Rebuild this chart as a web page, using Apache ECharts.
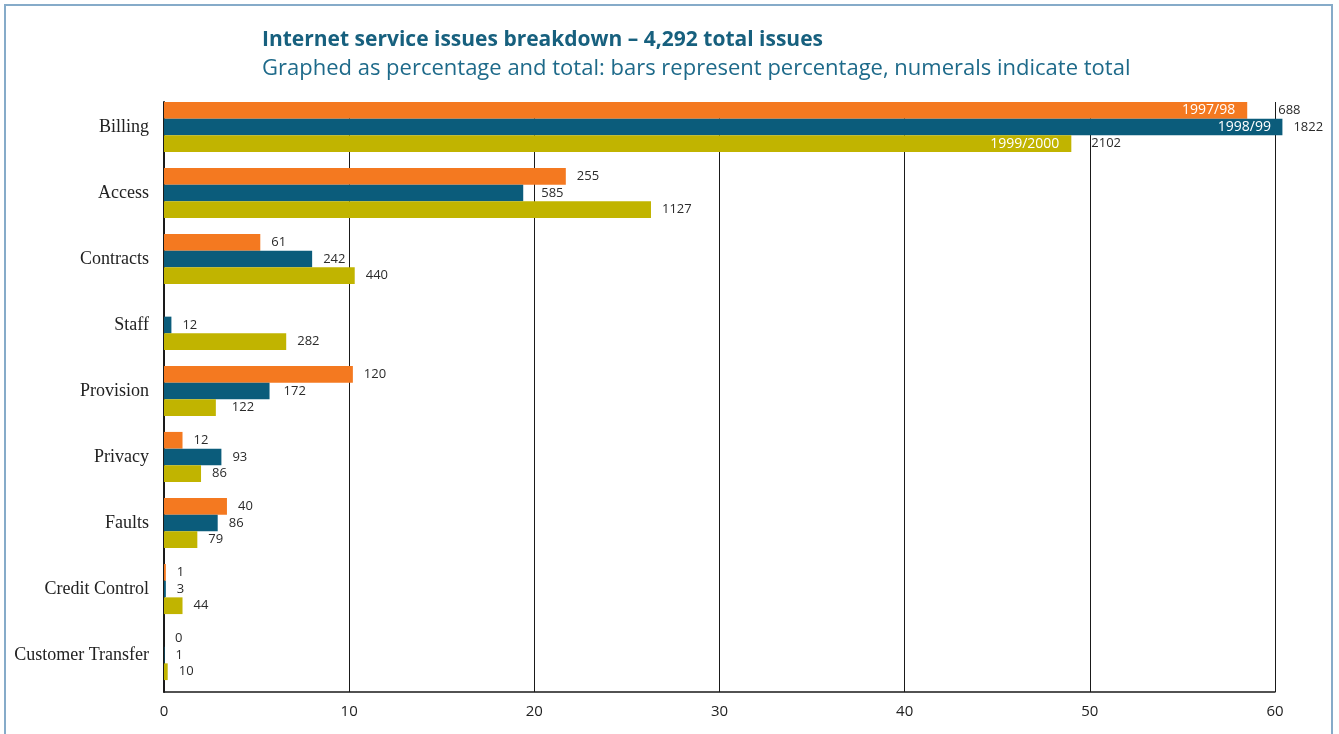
<!DOCTYPE html>
<html>
<head>
<meta charset="utf-8">
<script src="https://cdn.jsdelivr.net/npm/echarts@6/dist/echarts.min.js"></script>
<style>
  html, body { margin: 0; padding: 0; background: #ffffff; }
  #frame { position: absolute; left: 4px; top: 4px; width: 1329px; height: 760px;
           border: 2px solid #86abc9; box-sizing: border-box; }
  #chart { position: absolute; left: 0; top: 0; width: 1339px; height: 734px; }
</style>
</head>
<body>
<div id="frame"></div>
<div id="chart"></div>
<script>
// Issue categories, top to bottom
const categories = ['Billing', 'Access', 'Contracts', 'Staff', 'Provision',
                    'Privacy', 'Faults', 'Credit Control', 'Customer Transfer'];
const years = ['1997/98', '1998/99', '1999/2000'];

// Issue counts (printed beside each bar)
const count9798 = [688, 255, 61, null, 120, 12, 40, 1, 0];
const count9899 = [1822, 585, 242, 12, 172, 93, 86, 3, 1];
const count9900 = [2102, 1127, 440, 282, 122, 86, 79, 44, 10];

// Share of the year's issues, in percent (bar lengths)
const pct9798 = [58.5, 21.7, 5.2, null, 10.2, 1.0, 3.4, 0.1, 0];
const pct9899 = [60.4, 19.4, 8.0, 0.4, 5.7, 3.1, 2.9, 0.1, 0.03];
const pct9900 = [49.0, 26.3, 10.3, 6.6, 2.8, 2.0, 1.8, 1.0, 0.2];

const xTicks = [0, 10, 20, 30, 40, 50, 60];

const colors = ['#f47920', '#0b5c7b', '#c1b400'];
const numFont = '"Open Sans", "DejaVu Sans", sans-serif';

// Count labels nudged further out so they clear the grid lines
// (keyed by series index, then category index)
const labelGap = {
  0: { 0: 31 },
  1: { 0: 11, 1: 18, 4: 14 },
  2: { 0: 20, 4: 16 }
};

function makeSeries(idx, pct, counts) {
  const gaps = labelGap[idx] || {};
  const axisMax = xTicks[xTicks.length - 1];
  return {
    name: years[idx],
    type: 'bar',
    xAxisIndex: 0,
    yAxisIndex: 0,
    clip: false,
    barGap: 0,
    barCategoryGap: '24%',
    itemStyle: { color: colors[idx] },
    data: pct.map(function (v, i) {
      const item = { value: v, count: counts[i] };
      if (gaps[i] != null) item.label = { distance: gaps[i] };
      return item;
    }),
    label: {
      show: true,
      position: 'right',
      distance: 11,
      color: '#2b2b2b',
      fontFamily: numFont,
      fontSize: 13,
      formatter: function (p) {
        return p.data.count == null ? '' : String(p.data.count);
      }
    },
    // Year name written inside the end of the Billing bar
    markPoint: {
      symbol: 'rect',
      symbolSize: 0,
      silent: true,
      itemStyle: { color: 'rgba(0,0,0,0)' },
      label: {
        show: true,
        position: 'left',
        distance: pct[0] > axisMax ? 4 : 12,
        color: '#ffffff',
        fontFamily: numFont,
        fontSize: 14,
        formatter: years[idx]
      },
      data: [{ coord: [Math.min(pct[0], axisMax), categories[0]] }]
    }
  };
}

const chart = echarts.init(document.getElementById('chart'), null, { renderer: 'canvas' });

chart.setOption({
  animation: false,
  title: {
    text: 'Internet service issues breakdown \u2013 4,292 total issues',
    subtext: 'Graphed as percentage and total: bars represent percentage, numerals indicate total',
    left: 257,
    top: 25,
    itemGap: 7,
    textStyle: {
      color: '#17607e', fontSize: 21, fontWeight: 'bold',
      fontFamily: '"Open Sans", "DejaVu Sans", sans-serif'
    },
    subtextStyle: {
      color: '#1e6a8a', fontSize: 22, fontWeight: 'normal',
      fontFamily: '"Open Sans", "DejaVu Sans", sans-serif'
    }
  },
  grid: [
    // bars and category labels
    { left: 164, right: 64, top: 94, bottom: 46, containLabel: false },
    // frame: grid lines, left rule and percentage axis
    { left: 164, right: 64, top: 102, bottom: 42, containLabel: false }
  ],
  xAxis: [
    {
      gridIndex: 0, type: 'value', min: 0, max: 60, interval: 10,
      show: false
    },
    {
      gridIndex: 1, type: 'value', min: xTicks[0], max: xTicks[xTicks.length - 1], interval: 10,
      axisLine: { show: true, lineStyle: { color: '#1a1a1a', width: 1.5 } },
      axisTick: { show: false },
      axisLabel: {
        margin: 12, color: '#222', fontSize: 15, fontFamily: numFont
      },
      splitLine: { show: true, lineStyle: { color: '#1a1a1a', width: 1 } }
    }
  ],
  yAxis: [
    {
      gridIndex: 0, type: 'category', data: categories, inverse: true,
      axisLine: { show: false },
      axisTick: { show: false },
      axisLabel: {
        margin: 15, color: '#222', fontSize: 18,
        fontFamily: '"Liberation Serif", "DejaVu Serif", serif'
      }
    },
    {
      gridIndex: 1, type: 'value', min: 0, max: 1,
      axisLine: { show: true, lineStyle: { color: '#1a1a1a', width: 2 } },
      axisTick: { show: false },
      axisLabel: { show: false },
      splitLine: { show: false }
    }
  ],
  series: [
    makeSeries(0, pct9798, count9798),
    makeSeries(1, pct9899, count9899),
    makeSeries(2, pct9900, count9900)
  ]
});
</script>
</body>
</html>
